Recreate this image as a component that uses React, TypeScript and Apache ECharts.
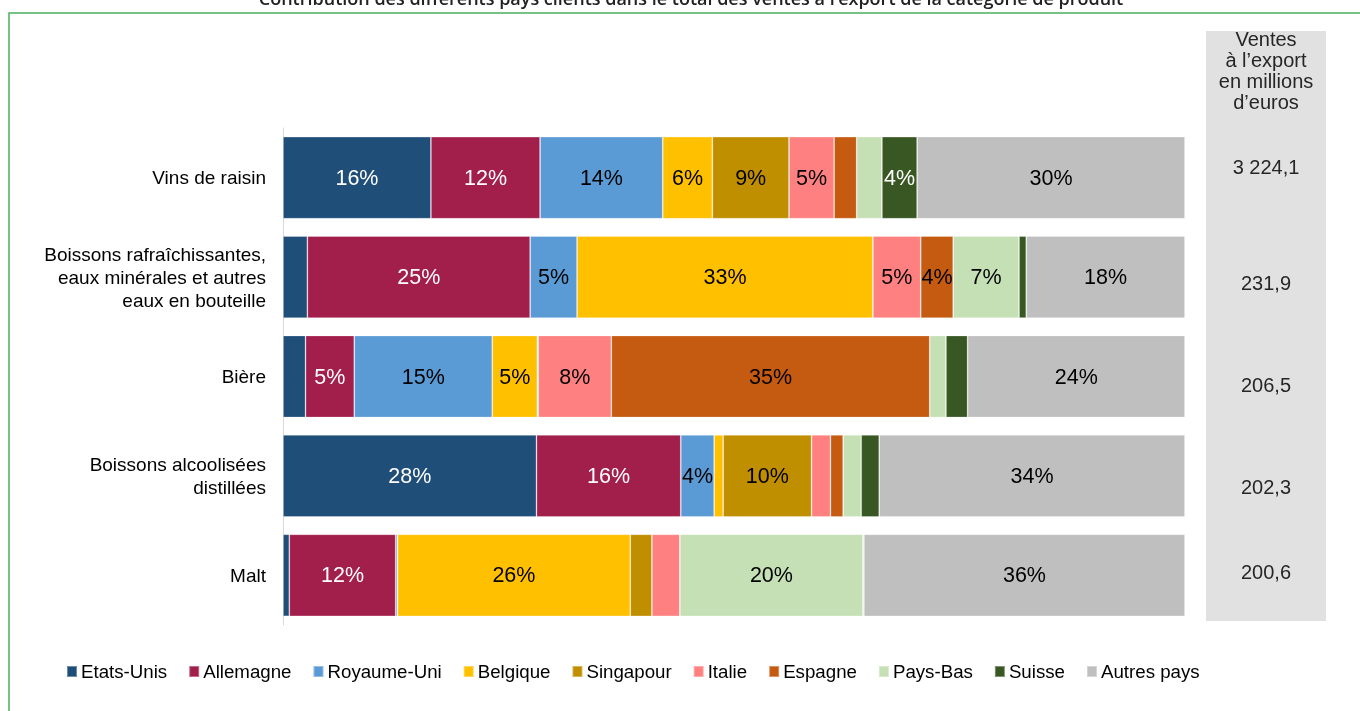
import React, { useEffect, useRef } from "react";
import * as echarts from "echarts";

const title =
  "Contribution des différents pays clients dans le total des ventes à l’export de la catégorie de produit";

const categories = [
  "Vins de raisin",
  "Boissons rafraîchissantes,\neaux minérales et autres\neaux en bouteille",
  "Bière",
  "Boissons alcoolisées\ndistillées",
  "Malt",
];

const countries = [
  "Etats-Unis",
  "Allemagne",
  "Royaume-Uni",
  "Belgique",
  "Singapour",
  "Italie",
  "Espagne",
  "Pays-Bas",
  "Suisse",
  "Autres pays",
];

// shares in % per category (same order as categories)
const etatsUnis = [16.4, 2.7, 2.5, 28.1, 0.7];
const allemagne = [12.1, 24.7, 5.4, 16.0, 11.8];
const royaumeUni = [13.6, 5.2, 15.3, 3.7, 0.2];
const belgique = [5.5, 32.8, 5.0, 1.0, 25.8];
const singapour = [8.5, 0, 0.1, 9.8, 2.4];
const italie = [5.0, 5.3, 8.1, 2.1, 3.1];
const espagne = [2.5, 3.6, 35.3, 1.4, 0];
const paysBas = [2.8, 7.3, 1.8, 2.0, 20.3];
const suisse = [3.9, 0.8, 2.4, 2.0, 0.1];
const autresPays = [29.7, 17.6, 24.1, 33.9, 35.6];

const totals = [3224.1, 231.9, 206.5, 202.3, 200.6];
const totalsHeader = "Ventes\nà l’export\nen millions\nd’euros";

const seriesValues = [
  etatsUnis,
  allemagne,
  royaumeUni,
  belgique,
  singapour,
  italie,
  espagne,
  paysBas,
  suisse,
  autresPays,
];

const colors = [
  "#1F4E79",
  "#A21E4B",
  "#5B9BD5",
  "#FFC000",
  "#BF8F00",
  "#FF8080",
  "#C55A11",
  "#C5E0B4",
  "#385723",
  "#BFBFBF",
];
const labelColors = [
  "#ffffff",
  "#ffffff",
  "#000000",
  "#000000",
  "#000000",
  "#000000",
  "#000000",
  "#000000",
  "#ffffff",
  "#000000",
];

// layout of the right-hand totals panel
const totalsY = [167, 283, 385, 487, 572];

function formatFr(v: number): string {
  const [i, d] = v.toFixed(1).split(".");
  const grouped = i.replace(/\B(?=(\d{3})+(?!\d))/g, " ");
  return grouped + "," + d;
}

export default function App() {
  const ref = useRef<HTMLDivElement>(null);

  useEffect(() => {
    if (!ref.current) return;
    const chart = echarts.init(ref.current, undefined, { renderer: "svg" });

    const series = countries.map((name, si) => ({
      name,
      type: "bar",
      stack: "total",
      barWidth: 82,
      itemStyle: {
        color: colors[si],
        borderColor: "rgba(255,255,255,0.35)",
        borderWidth: 0.8,
      },
      label: {
        show: true,
        position: "inside",
        color: labelColors[si],
        fontFamily: "'Liberation Sans', Arial, sans-serif",
        fontSize: 21.5,
        formatter: (p: any) => Math.round(p.value) + "%",
      },
      data: seriesValues[si].map((v) => ({
        value: v,
        label: { show: v >= 3.5 },
      })),
    }));

    const graphic: any[] = [
      {
        type: "rect",
        shape: { x: 9, y: 13, width: 1400, height: 800 },
        style: { fill: "none", stroke: "#4CB05C", lineWidth: 1.5 },
        silent: true,
        z: -10,
      },
      {
        type: "text",
        x: 691,
        y: -2,
        style: {
          text: title,
          fill: "#222",
          font: "600 18px 'Open Sans', sans-serif",
          align: "center",
          verticalAlign: "middle",
        },
      },
      {
        type: "rect",
        shape: { x: 1206, y: 31, width: 120, height: 590 },
        style: { fill: "#E1E1E1" },
        silent: true,
        z: -5,
      },
      {
        type: "text",
        x: 1266,
        y: 29,
        style: {
          text: totalsHeader,
          fill: "#262626",
          font: "20px 'Liberation Sans', Arial, sans-serif",
          lineHeight: 20.8,
          align: "center",
          verticalAlign: "top",
        },
      },
      ...totals.map((t, i) => ({
        type: "text",
        x: 1266,
        y: totalsY[i],
        style: {
          text: formatFr(t),
          fill: "#262626",
          font: "20px 'Liberation Sans', Arial, sans-serif",
          align: "center",
          verticalAlign: "middle",
        },
      })),
    ];

    chart.setOption({
      animation: false,
      color: colors,
      grid: { left: 283, right: 175, top: 128, bottom: 86, containLabel: false },
      xAxis: {
        type: "value",
        min: 0,
        max: 100,
        show: false,
      },
      yAxis: {
        type: "category",
        inverse: true,
        data: categories,
        axisTick: { show: false },
        axisLine: { show: true, lineStyle: { color: "#D9D9D9", width: 1 } },
        axisLabel: {
          color: "#000",
          fontSize: 19,
          fontFamily: "'Liberation Sans', Arial, sans-serif",
          lineHeight: 23,
          margin: 17,
          align: "right",
        },
      },
      legend: {
        left: 61,
        top: 657,
        itemWidth: 10,
        itemHeight: 11,
        itemGap: 21,
        icon: "rect",
        textStyle: {
          color: "#000",
          fontSize: 18.7,
          fontFamily: "'Liberation Sans', Arial, sans-serif",
          padding: [0, 0, 0, -1],
        },
        data: countries.map((n) => ({ name: n, icon: "rect" })),
      },
      graphic,
      series,
    });

    return () => chart.dispose();
  }, []);

  return (
    <div
      ref={ref}
      style={{ position: "fixed", left: 0, top: 0, width: 1360, height: 711 }}
    />
  );
}
